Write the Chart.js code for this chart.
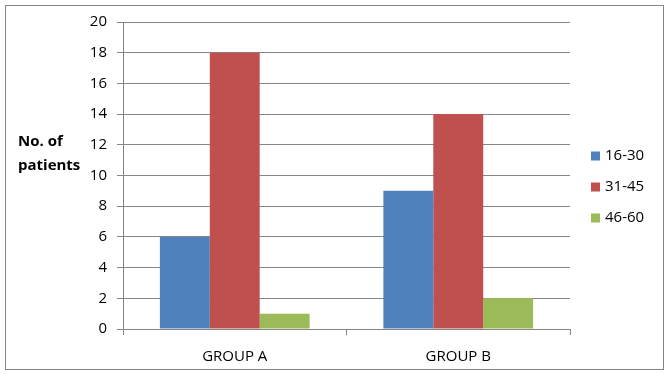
<!DOCTYPE html>
<html>
<head>
<meta charset="utf-8">
<script src="https://cdn.jsdelivr.net/npm/chart.js@4"></script>
<style>
  body { margin: 0; background: #fff; }
  canvas { display: block; }
</style>
</head>
<body>
<canvas id="chartPatients" width="669" height="374"></canvas>
<script>
const groups = ["GROUP A", "GROUP B"];
const ageBands = ["16-30", "31-45", "46-60"];
const band1630 = [6, 9];
const band3145 = [18, 14];
const band4660 = [1, 2];
const yTicks = [0, 2, 4, 6, 8, 10, 12, 14, 16, 18, 20];
const yTitle = ["No. of", "patients"];

const colors = ["#4F81BD", "#C0504D", "#9BBB59"];
const gridColor = "#868686";
const font = "'Open Sans', 'Liberation Sans', sans-serif";

// fond blanc + cadre, titre de l'axe et legende
const framePlugin = {
  id: "frame",
  beforeDraw: (chart) => {
    const ctx = chart.ctx;
    ctx.save();
    ctx.fillStyle = "#fff";
    ctx.fillRect(0, 0, chart.width, chart.height);
    ctx.strokeStyle = gridColor;
    ctx.lineWidth = 1;
    ctx.strokeRect(5.5, 5.5, 658, 364);
    ctx.restore();
  },
  afterDraw: (chart) => {
    const ctx = chart.ctx;
    ctx.save();
    ctx.fillStyle = "#000";
    ctx.textBaseline = "middle";
    ctx.font = "bold 15px " + font;
    ctx.fillText(yTitle[0], 18, 142);
    ctx.fillText(yTitle[1], 18, 166);

    ctx.font = "15px " + font;
    chart.data.datasets.forEach((ds, i) => {
      const y = 156 + i * 31;
      ctx.fillStyle = ds.backgroundColor;
      ctx.fillRect(591, y - 4.5, 9, 9);
      ctx.fillStyle = "#000";
      ctx.fillText(ds.label, 605, y);
    });
    ctx.restore();
  },
};

const chartData = {
  labels: groups,
  datasets: [
    { label: ageBands[0], data: band1630, backgroundColor: colors[0] },
    { label: ageBands[1], data: band3145, backgroundColor: colors[1] },
    { label: ageBands[2], data: band4660, backgroundColor: colors[2] },
  ],
};

const options = {
  responsive: false,
  animation: false,
  layout: { padding: { top: 22, right: 99, bottom: 0, left: 0 } },
  datasets: { bar: { barPercentage: 1, categoryPercentage: 0.67 } },
  scales: {
    x: {
      grid: { drawOnChartArea: false, color: gridColor, tickLength: 6, offset: true },
      border: { color: gridColor },
      ticks: { color: "#000", padding: 13, font: { family: font, size: 15 } },
      afterFit: (scale) => { scale.height = 45; },
    },
    y: {
      min: 0,
      max: 20,
      afterBuildTicks: (scale) => { scale.ticks = yTicks.map((v) => ({ value: v })); },
      grid: { color: gridColor, tickLength: 6 },
      border: { color: gridColor },
      ticks: { color: "#000", padding: 10, font: { family: font, size: 15 } },
      afterFit: (scale) => { scale.width = 123; },
    },
  },
  plugins: {
    legend: { display: false },
    tooltip: { enabled: false },
  },
};

const ctx = document.getElementById("chartPatients").getContext("2d");
const myChart = new Chart(ctx, {
  type: "bar",
  data: chartData,
  options: options,
  plugins: [framePlugin],
});
</script>
</body>
</html>
